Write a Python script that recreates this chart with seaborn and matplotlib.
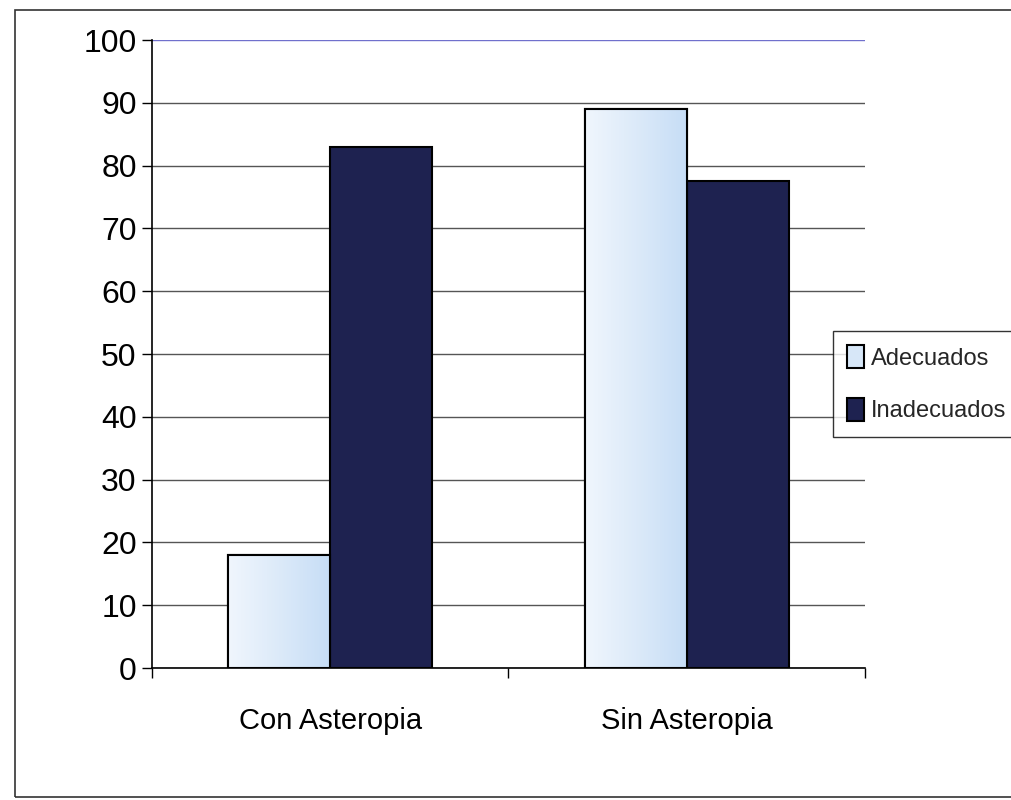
import numpy as np
import pandas as pd
import matplotlib
matplotlib.use("Agg")
import matplotlib.pyplot as plt
import seaborn as sns
from matplotlib.patches import Rectangle
from matplotlib.colors import LinearSegmentedColormap

categories = ["Con Asteropia", "Sin Asteropia"]
series_names = ["Adecuados", "Inadecuados"]
adecuados = [18, 89]
inadecuados = [83, 77.5]
y_ticks = [0, 10, 20, 30, 40, 50, 60, 70, 80, 90, 100]

df = pd.DataFrame({
    "cat": categories * 2,
    "grupo": [series_names[0]] * 2 + [series_names[1]] * 2,
    "val": adecuados + inadecuados,
})

sns.set_theme(style="white")
plt.rcParams["font.family"] = ["Liberation Sans Narrow", "Liberation Sans", "DejaVu Sans"]

light = "#d7e7f8"
dark = "#1e2250"

fig = plt.figure(figsize=(10.11, 8.0), dpi=100)
ax = fig.add_axes([0.1503, 0.165, 0.7053, 0.785])

sns.barplot(data=df, x="cat", y="val", hue="grupo", palette=[light, dark],
            width=0.573, gap=0, edgecolor="black", linewidth=1.5,
            saturation=1, ax=ax, zorder=3)

# gradient fill for light bars
cmap = LinearSegmentedColormap.from_list("g", ["#f0f6fd", "#dceaf9", "#c6ddf6"])
grad = np.linspace(0, 1, 256).reshape(1, -1)
for p in list(ax.patches):
    fc = p.get_facecolor()
    if fc[0] > 0.5 and p.get_height() > 0:
        x0, y0 = p.get_x(), p.get_y()
        w, h = p.get_width(), p.get_height()
        im = ax.imshow(grad, cmap=cmap, aspect="auto", extent=[x0, x0 + w, y0, y0 + h],
                       zorder=3.5, interpolation="bilinear")
        im.set_clip_path(p)
        ax.add_patch(Rectangle((x0, y0), w, h, fill=False, edgecolor="black", linewidth=1.5, zorder=4))

ax.set_xlim(-0.5, 1.5)
ax.set_ylim(0, 100)
ax.set_yticks(y_ticks)
ax.set_xticks([0, 1])
ax.set_xticklabels(categories)
ax.set_xticks([-0.5, 0.5, 1.5], minor=True)
ax.tick_params(axis="x", which="major", length=0, pad=28, labelsize=21, labelcolor="black")
ax.tick_params(axis="x", which="minor", length=7, width=1, color="black", direction="out", bottom=True)
ax.tick_params(axis="y", which="major", length=7, width=1, color="black", direction="out", left=True,
               labelsize=23, pad=4, labelcolor="black")
ax.set_xlabel("")
ax.set_ylabel("")

ax.grid(axis="y", color="#555555", linewidth=1.0, zorder=0)
ax.set_axisbelow(True)
gl = ax.get_ygridlines()
gl[-1].set_color("#7070cc")
for s in ["top", "right"]:
    ax.spines[s].set_visible(False)
for s in ["left", "bottom"]:
    ax.spines[s].set_color("black")
    ax.spines[s].set_linewidth(1.2)

handles, labels = ax.get_legend_handles_labels()
leg = ax.legend(handles, labels, loc="upper left", bbox_to_anchor=(0.8239, 0.586),
                bbox_transform=fig.transFigure, frameon=True, fancybox=False,
                edgecolor="black", fontsize=17, handlelength=0.7, handleheight=1.1,
                handletextpad=0.3, borderpad=0.6, labelspacing=1.2, borderaxespad=0)
leg.get_frame().set_linewidth(1.0)
leg.set_clip_on(False)

fig.patches.append(Rectangle((15 / 1011, 3 / 800), 1.2, 787 / 800, transform=fig.transFigure,
                             fill=False, edgecolor="#333333", linewidth=1.2))

fig.savefig("out.png", dpi=100)
